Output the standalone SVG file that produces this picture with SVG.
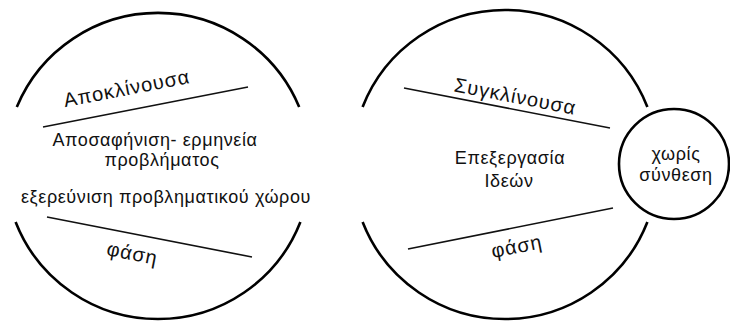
<svg xmlns="http://www.w3.org/2000/svg" width="730" height="321" viewBox="0 0 730 321">
<style>
.arc{fill:none;stroke:#000;stroke-width:2.6}
.ln{stroke:#111;stroke-width:1.6}
text{font-family:"Liberation Sans",Arial,sans-serif;fill:#111;text-anchor:middle}
.t{font-size:18px;letter-spacing:0.6px}
.r{font-size:20px;letter-spacing:0.9px}
</style>
<rect width="730" height="321" fill="#fff"/>
<g id="phase1">
<path class="arc" d="M16.8,107 A153,153 0 0,1 299.2,107"/>
<path class="arc" d="M15.6,222 A153,153 0 0,0 300.4,222"/>
<text class="r" x="128" y="95" transform="rotate(-11 128 95)">Αποκλίνουσα</text>
<text class="t" x="155" y="146" font-size="17">Αποσαφήνιση- ερμηνεία</text>
<text class="t" x="162" y="166" font-size="17">προβλήματος</text>
<text class="t" x="166" y="203">εξερεύνιση προβληματικού χώρου</text>
<text class="r" x="131" y="260" transform="rotate(11 131 260)">φάση</text>
</g>
<g id="phase2">
<path class="arc" d="M362.6,107 A153,153 0 0,1 647.4,107"/>
<path class="arc" d="M362.6,222 A153,153 0 0,0 647.4,222"/>
<text class="r" x="514" y="103" transform="rotate(11 514 103)">Συγκλίνουσα</text>
<text class="t" x="510" y="164">Επεξεργασία</text>
<text class="t" x="509" y="187">Ιδεών</text>
<text class="r" x="518" y="253" transform="rotate(-11 518 253)">φάση</text>
</g>
<g id="synthesis">
<circle class="arc" cx="674" cy="164" r="55"/>
<text class="t" x="676" y="160" letter-spacing="1">χωρίς</text>
<text class="t" x="676" y="181">σύνθεση</text>
</g>
<g id="connectors">
<line class="ln" x1="43" y1="127" x2="248" y2="87"/>
<line class="ln" x1="47" y1="217" x2="252" y2="257"/>
<line class="ln" x1="404" y1="88" x2="610" y2="128"/>
<line class="ln" x1="408" y1="249" x2="613" y2="208"/>
</g>
</svg>
